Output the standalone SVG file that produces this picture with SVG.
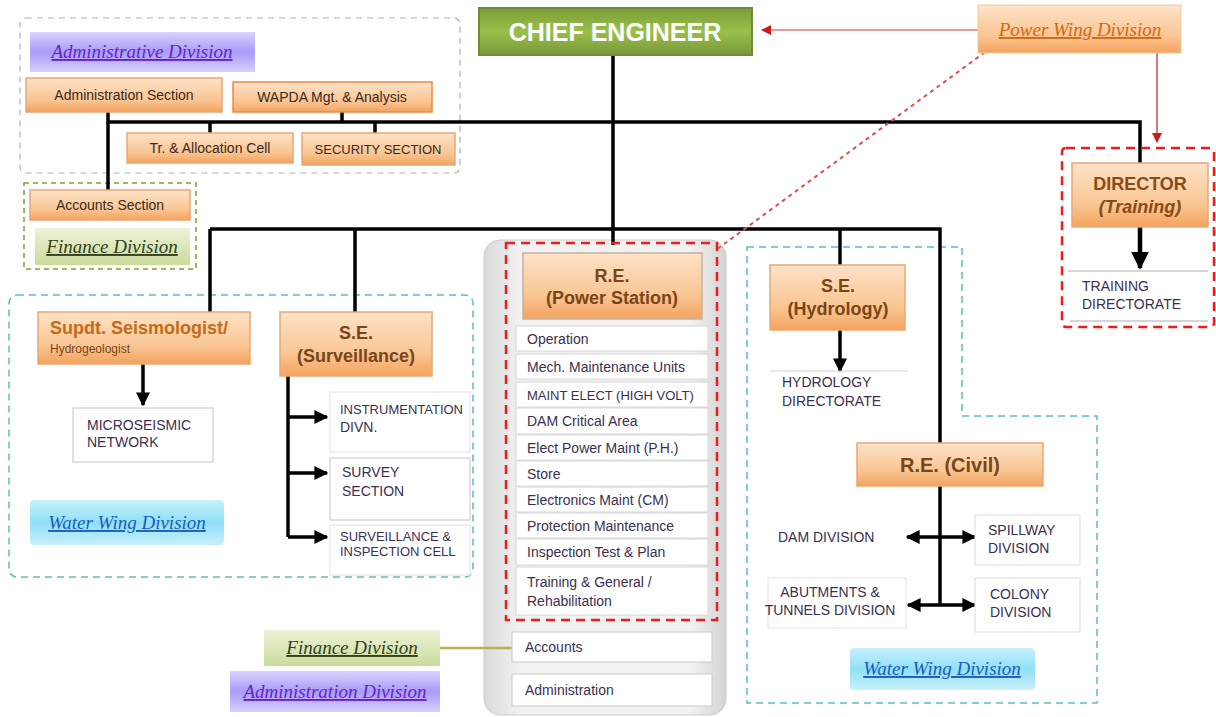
<svg xmlns="http://www.w3.org/2000/svg" width="1216" height="717" viewBox="0 0 1216 717">
<defs>
<linearGradient id="org" x1="0" y1="0" x2="0" y2="1"><stop offset="0" stop-color="#fde3c8"/><stop offset="0.65" stop-color="#f9c592"/><stop offset="1" stop-color="#f4a35e"/></linearGradient>
<linearGradient id="grn" x1="0" y1="0" x2="0" y2="1"><stop offset="0" stop-color="#7c9c38"/><stop offset="0.5" stop-color="#98c04a"/><stop offset="1" stop-color="#7a983a"/></linearGradient>
<linearGradient id="pur" x1="0" y1="0" x2="0" y2="1"><stop offset="0" stop-color="#d8d4ff"/><stop offset="0.5" stop-color="#a89cf7"/><stop offset="1" stop-color="#d6d0ff"/></linearGradient>
<linearGradient id="blu" x1="0" y1="0" x2="0" y2="1"><stop offset="0" stop-color="#c6f2fc"/><stop offset="0.5" stop-color="#8fe0f6"/><stop offset="1" stop-color="#c8f0fa"/></linearGradient>
<linearGradient id="lgr" x1="0" y1="0" x2="0" y2="1"><stop offset="0" stop-color="#eef2d8"/><stop offset="1" stop-color="#c9dc9b"/></linearGradient>
<linearGradient id="panel" x1="0" y1="0" x2="1" y2="0"><stop offset="0" stop-color="#d9d9d9"/><stop offset="0.15" stop-color="#f2f2f2"/><stop offset="0.85" stop-color="#f2f2f2"/><stop offset="1" stop-color="#d4d4d4"/></linearGradient>
<marker id="arr" viewBox="0 0 10 10" refX="9" refY="5" markerWidth="4" markerHeight="4" orient="auto"><path d="M0,0 L10,5 L0,10 z" fill="#000"/></marker>
<marker id="rarr" viewBox="0 0 10 10" refX="9" refY="5" markerWidth="5" markerHeight="5" orient="auto"><path d="M0,0 L10,5 L0,10 z" fill="#d01818"/></marker>
</defs>
<style>
text{font-family:"Liberation Sans",Arial,sans-serif;}
.ob{fill:url(#org);stroke:#e8a878;stroke-width:1.5;}
.ot{fill:#7a4518;font-size:18px;font-weight:bold;text-anchor:middle;}
.os{fill:#3a2a20;font-size:14px;text-anchor:middle;}
.wb{fill:#fff;stroke:#cfcfcf;stroke-width:1.2;}
.wt{fill:#3a3050;font-size:14px;}
.li{fill:#fff;stroke:#d6d6d6;stroke-width:1;}
.lt{fill:#3a3050;font-size:14px;}
.ln{stroke:#000;stroke-width:3.5;fill:none;}
.la{stroke:#000;stroke-width:3.5;fill:none;marker-end:url(#arr);}
.dv{font-family:"Liberation Serif","Times New Roman",serif;font-size:19px;font-style:italic;text-decoration:underline;text-anchor:middle;}
.cy{fill:none;stroke:#5cbcc4;stroke-width:1.5;stroke-dasharray:7 5;}
.rd{fill:none;stroke:#ee1c1c;stroke-width:2.5;stroke-dasharray:9 6;}
</style>

<!-- background regions -->
<g id="admin-region"><rect x="20" y="18" width="440" height="155" rx="6" fill="none" stroke="#b0b0b0" stroke-width="1.2" stroke-dasharray="6 5"/></g>
<g id="finance-region"><rect x="24" y="183" width="172" height="86" fill="none" stroke="#8a9a30" stroke-width="1.5" stroke-dasharray="5 4"/></g>
<g id="water-left-region"><rect x="9" y="295" width="464" height="282" rx="8" class="cy"/></g>
<g id="water-right-region"><path d="M747,247 H962 V416 H1097 V703 H747 Z" class="cy"/></g>
<g id="power-panel"><rect x="484" y="240" width="242" height="475" rx="16" fill="url(#panel)" stroke="#cccccc"/></g>

<!-- connectors -->
<g id="connectors">
<path class="ln" d="M613,55 V245"/>
<path class="ln" d="M108,112 V122 H1140 V165"/>
<path class="ln" d="M108,122 V192"/>
<path class="ln" d="M210,122 V133 M375,122 V133 M342,112 V122"/>
<path class="ln" d="M210,229 H940 V445"/>
<path class="ln" d="M210,229 V312 M355,229 V312 M840,229 V265"/>
<path class="la" d="M143,364 V405"/>
<path class="ln" d="M288,376 V537"/>
<path class="la" d="M288,417 H327"/>
<path class="la" d="M288,473 H327"/>
<path class="la" d="M288,537 H327"/>
<path class="la" d="M840,330 V371"/>
<path class="ln" d="M940,486 V605"/>
<path class="la" d="M940,537 H907"/>
<path class="la" d="M940,537 H975"/>
<path class="la" d="M940,605 H908"/>
<path class="la" d="M940,605 H975"/>
<path class="la" d="M1140,227 V268" style="stroke-width:4.5"/>
<path d="M978,30 H762" stroke="#e29a9a" stroke-width="2" marker-end="url(#rarr)"/>
<path d="M1157,53 V142" stroke="#e07878" stroke-width="2" marker-end="url(#rarr)"/>
<path d="M985,52 L716,250" stroke="#d85050" stroke-width="2" stroke-dasharray="4 4"/>
<path d="M440,648 H514" stroke="#b4b450" stroke-width="2.5"/>
</g>

<!-- red dashed groups -->
<g id="power-wing-border"><rect x="506" y="243" width="211" height="377" class="rd"/></g>
<g id="training-border"><rect x="1062" y="148" width="152" height="179" rx="4" class="rd"/></g>

<g id="chief-engineer"><rect x="479" y="8" width="273" height="47" fill="url(#grn)" stroke="#6e8a34" stroke-width="2"/><text x="615" y="41" fill="#fff" font-size="25" font-weight="bold" text-anchor="middle">CHIEF ENGINEER</text></g>

<g id="power-wing-division"><rect x="978" y="5" width="203" height="48" fill="url(#org)" stroke="#f4c8a0" stroke-width="1"/><text x="1080" y="36" class="dv" fill="#d06a10">Power Wing Division</text></g>

<g id="administrative-division"><rect x="30" y="32" width="225" height="40" fill="url(#pur)"/><text x="142" y="58" class="dv" fill="#6a1ed0">Administrative Division</text></g>
<g id="administration-section"><rect x="26" y="78" width="196" height="34" class="ob"/><text x="124" y="100" class="os">Administration Section</text></g>
<g id="mng-analysis"><rect x="233" y="82" width="199" height="30" class="ob" style="stroke:#ee8a40"/><text x="332" y="102" class="os">WAPDA Mgt. &amp; Analysis</text></g>
<g id="allocation-cell"><rect x="127" y="133" width="166" height="30" class="ob"/><text x="210" y="153" class="os">Tr. &amp; Allocation Cell</text></g>
<g id="security-section"><rect x="302" y="133" width="153" height="32" class="ob"/><text x="378" y="154" class="os" style="font-size:13px">SECURITY SECTION</text></g>
<g id="accounts-section"><rect x="30" y="190" width="160" height="30" class="ob"/><text x="110" y="210" class="os">Accounts Section</text></g>
<g id="finance-division-top"><rect x="35" y="228" width="155" height="37" fill="url(#lgr)"/><text x="112" y="253" class="dv" fill="#34401c">Finance Division</text></g>

<g id="seismologist"><rect x="38" y="312" width="212" height="52" class="ob"/><text x="50" y="334" fill="#c46a18" font-size="18" font-weight="bold">Supdt. Seismologist/</text><text x="50" y="353" fill="#7a4518" font-size="12">Hydrogeologist</text></g>
<g id="microseismic"><rect x="73" y="408" width="140" height="54" class="wb"/><text x="87" y="430" class="wt">MICROSEISMIC</text><text x="87" y="447" class="wt">NETWORK</text></g>
<g id="water-wing-left"><rect x="30" y="500" width="194" height="45" rx="4" fill="url(#blu)"/><text x="127" y="529" class="dv" fill="#1a5cc0">Water Wing Division</text></g>

<g id="se-surveillance"><rect x="280" y="312" width="152" height="64" class="ob"/><text x="356" y="339" class="ot">S.E.</text><text x="356" y="362" class="ot">(Surveillance)</text></g>
<g id="instrumentation"><rect x="330" y="392" width="140" height="60" class="wb" style="stroke:#e6e6e6"/><text x="340" y="414" class="wt" style="font-size:13px">INSTRUMENTATION</text><text x="340" y="432" class="wt">DIVN.</text></g>
<g id="survey"><rect x="330" y="458" width="140" height="62" class="wb"/><text x="342" y="477" class="wt">SURVEY</text><text x="342" y="496" class="wt">SECTION</text></g>
<g id="surveillance-cell"><rect x="330" y="525" width="140" height="50" class="wb" style="stroke:#e6e6e6"/><text x="340" y="541" class="wt" style="font-size:13px">SURVEILLANCE &amp;</text><text x="340" y="556" class="wt" style="font-size:13px">INSPECTION CELL</text></g>

<g id="re-power-station"><rect x="523" y="253" width="179" height="66" class="ob" style="stroke:#c8b0a0"/><text x="612" y="282" class="ot">R.E.</text><text x="612" y="304" class="ot">(Power Station)</text></g>
<g id="ps-list">
<rect x="516" y="326" width="192" height="25" class="li"/><text x="527" y="344" class="lt">Operation</text>
<rect x="516" y="354" width="192" height="25" class="li"/><text x="527" y="372" class="lt">Mech. Maintenance Units</text>
<rect x="516" y="382" width="192" height="25" class="li"/><text x="527" y="400" class="lt" style="font-size:13px">MAINT ELECT (HIGH VOLT)</text>
<rect x="516" y="408" width="192" height="26" class="li"/><text x="527" y="426" class="lt">DAM Critical Area</text>
<rect x="516" y="435" width="192" height="25" class="li"/><text x="527" y="453" class="lt">Elect Power Maint (P.H.)</text>
<rect x="516" y="461" width="192" height="25" class="li"/><text x="527" y="479" class="lt">Store</text>
<rect x="516" y="487" width="192" height="25" class="li"/><text x="527" y="505" class="lt">Electronics Maint (CM)</text>
<rect x="516" y="513" width="192" height="25" class="li"/><text x="527" y="531" class="lt">Protection Maintenance</text>
<rect x="516" y="539" width="192" height="26" class="li"/><text x="527" y="557" class="lt">Inspection Test &amp; Plan</text>
<rect x="516" y="567" width="192" height="48" class="li"/><text x="527" y="587" class="lt">Training &amp; General /</text><text x="527" y="606" class="lt">Rehabilitation</text>
</g>
<g id="ps-accounts"><rect x="512" y="632" width="200" height="30" class="li" style="stroke:#c8c8c8"/><text x="525" y="652" class="lt">Accounts</text></g>
<g id="ps-administration"><rect x="512" y="674" width="200" height="32" class="li" style="stroke:#c8c8c8"/><text x="525" y="695" class="lt">Administration</text></g>

<g id="finance-division-bottom"><rect x="264" y="630" width="176" height="36" fill="url(#lgr)"/><text x="352" y="654" class="dv" fill="#34401c">Finance Division</text></g>
<g id="administration-division"><rect x="230" y="671" width="210" height="41" fill="url(#pur)"/><text x="335" y="698" class="dv" fill="#6a1ed0">Administration Division</text></g>

<g id="se-hydrology"><rect x="770" y="265" width="135" height="65" class="ob"/><text x="838" y="292" class="ot">S.E.</text><text x="838" y="315" class="ot">(Hydrology)</text></g>
<g id="hydrology-directorate"><line x1="770" y1="371" x2="908" y2="371" stroke="#d0d0d0"/><text x="782" y="387" class="wt">HYDROLOGY</text><text x="782" y="406" class="wt">DIRECTORATE</text></g>

<g id="re-civil"><rect x="857" y="443" width="186" height="43" class="ob"/><text x="950" y="472" class="ot" style="font-size:20px">R.E. (Civil)</text></g>
<g id="dam-division"><text x="778" y="542" class="wt">DAM DIVISION</text></g>
<g id="spillway-division"><rect x="975" y="515" width="105" height="50" class="wb" style="stroke:#e2e2e2"/><text x="988" y="535" class="wt">SPILLWAY</text><text x="988" y="553" class="wt">DIVISION</text></g>
<g id="abutments-division"><rect x="768" y="578" width="138" height="50" class="wb" style="stroke:#e8e8e8"/><text x="830" y="597" class="wt" text-anchor="middle">ABUTMENTS &amp;</text><text x="830" y="615" class="wt" text-anchor="middle">TUNNELS DIVISION</text></g>
<g id="colony-division"><rect x="975" y="578" width="105" height="54" class="wb" style="stroke:#e2e2e2"/><text x="990" y="599" class="wt">COLONY</text><text x="990" y="617" class="wt">DIVISION</text></g>
<g id="water-wing-right"><rect x="850" y="648" width="185" height="42" rx="4" fill="url(#blu)"/><text x="942" y="675" class="dv" fill="#1a5cc0">Water Wing Division</text></g>

<g id="director-training"><rect x="1072" y="163" width="136" height="64" class="ob"/><text x="1140" y="190" class="ot" style="fill:#8a4a18">DIRECTOR</text><text x="1140" y="213" class="ot" style="font-style:italic;fill:#8a4a18">(Training)</text></g>
<g id="training-directorate"><line x1="1068" y1="271" x2="1208" y2="271" stroke="#c8c8c8" stroke-width="1.5"/><line x1="1070" y1="321" x2="1208" y2="321" stroke="#c8c8c8" stroke-width="1.5"/><text x="1082" y="291" class="wt">TRAINING</text><text x="1082" y="309" class="wt">DIRECTORATE</text></g>
</svg>
